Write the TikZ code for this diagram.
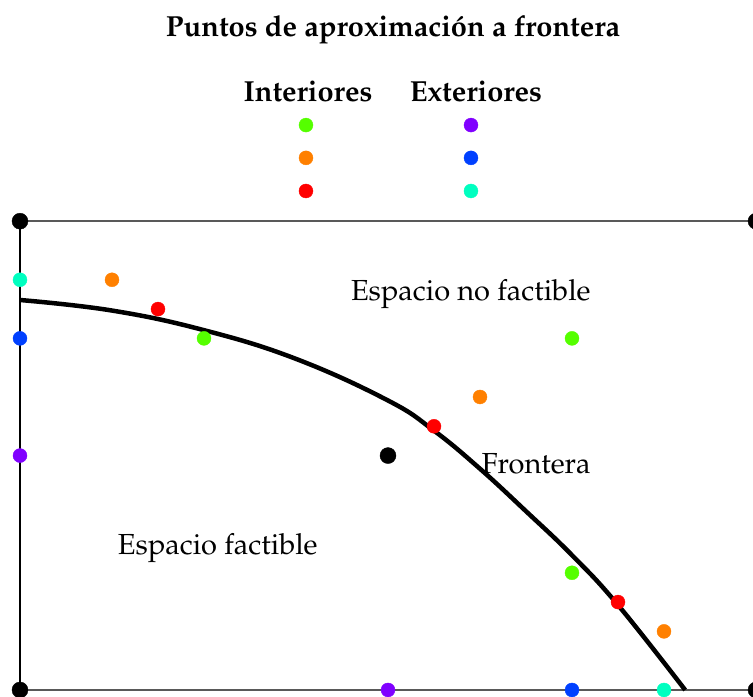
\documentclass[tikz,border=0pt]{standalone}
\IfFileExists{mathpazo.sty}{\usepackage[T1]{fontenc}\usepackage{mathpazo}}{}
\definecolor{verde}{RGB}{85,255,0}
\definecolor{naranja}{RGB}{255,128,0}
\definecolor{rojo}{RGB}{255,0,0}
\definecolor{morado}{RGB}{128,0,255}
\definecolor{azul}{RGB}{0,64,255}
\definecolor{cian}{RGB}{0,255,192}
\begin{document}
\begin{tikzpicture}[x=46pt, y=29.3pt, font=\fontsize{29}{34}\selectfont,
		punto/.style={fill}, etiqueta/.style={inner sep=0pt}]
					\useasboundingbox (-0.4348,-0.2389) rectangle (15.9348,23.549);
					% marco
					\draw [black!65, line width=2pt] (0,16) -- (16,16) ;
					\draw [black!65, line width=2pt] (0,0) -- (16,0) ;
					\draw [black, line width=2pt] (0,0) -- (0,16) ;
					% frontera
					\draw [black, line width=4.5pt] plot [smooth, tension=0.7] coordinates
						{(0,13.31) (2,12.95) (4,12.28) (6,11.3) (8,9.88) (9,8.85) (10,7.55) (11,6.1) (12,4.6) (13,2.9) (14.46,0)} ;
					% esquinas y centro
					\foreach \p in {(0,0), (0,16), (16,0), (16,16), (8,8)}
						\draw [punto, black] \p circle [radius=8pt] ;
					% interiores
					\draw [punto, verde] (4,12) circle [radius=7pt] ;
					\draw [punto, verde] (12,12) circle [radius=7pt] ;
					\draw [punto, verde] (12,4) circle [radius=7pt] ;
					\draw [punto, naranja] (2,14) circle [radius=7pt] ;
					\draw [punto, naranja] (10,10) circle [radius=7pt] ;
					\draw [punto, naranja] (14,2) circle [radius=7pt] ;
					\draw [punto, rojo] (3,13) circle [radius=7pt] ;
					\draw [punto, rojo] (9,9) circle [radius=7pt] ;
					\draw [punto, rojo] (13,3) circle [radius=7pt] ;
					% exteriores
					\draw [punto, cian] (0,14) circle [radius=7pt] ;
					\draw [punto, cian] (14,0) circle [radius=7pt] ;
					\draw [punto, azul] (0,12) circle [radius=7pt] ;
					\draw [punto, azul] (12,0) circle [radius=7pt] ;
					\draw [punto, morado] (0,8) circle [radius=7pt] ;
					\draw [punto, morado] (8,0) circle [radius=7pt] ;
					% leyenda
					\draw [punto, verde] (6.217,19.28) circle [radius=7pt] ;
					\draw [punto, naranja] (6.217,18.16) circle [radius=7pt] ;
					\draw [punto, rojo] (6.217,17.03) circle [radius=7pt] ;
					\draw [punto, morado] (9.804,19.28) circle [radius=7pt] ;
					\draw [punto, azul] (9.804,18.16) circle [radius=7pt] ;
					\draw [punto, cian] (9.804,17.03) circle [radius=7pt] ;
					% textos
					\node[etiqueta] (titulo) at (8.109,22.53) {\bfseries Puntos de aproximaci\'on a frontera} ;
					\node[etiqueta] (interiores) at (6.26,20.44) {\bfseries Interiores} ;
					\node[etiqueta] (exteriores) at (9.913,20.44) {\bfseries Exteriores} ;
					\node[etiqueta] (nofactible) at (9.80,13.52) {Espacio no factible} ;
					\node[etiqueta] (frontera) at (11.22,7.71) {Frontera} ;
					\node[etiqueta] (factible) at (4.30,4.85) {Espacio factible} ;
				\end{tikzpicture}
\end{document}
